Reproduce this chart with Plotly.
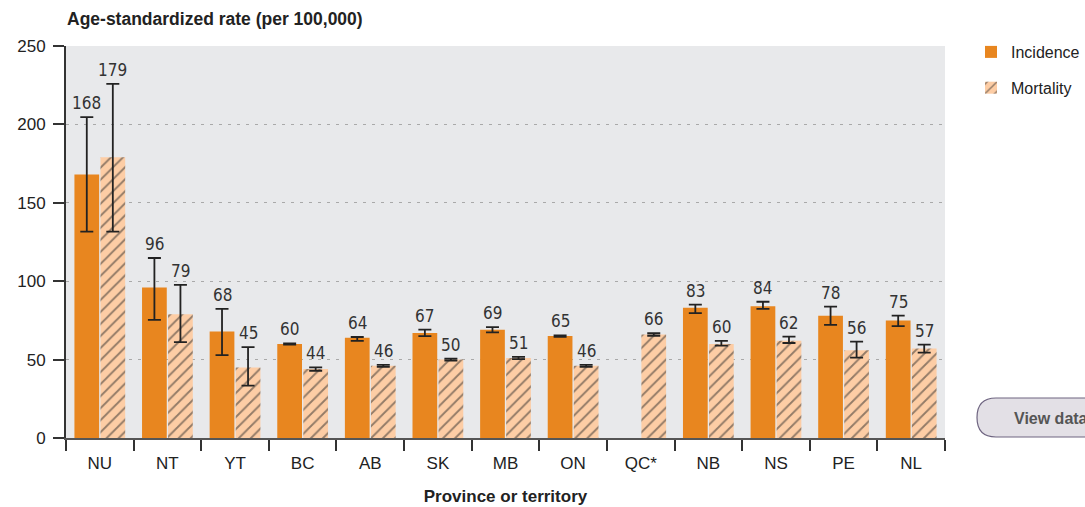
import plotly.graph_objects as go

# Age-standardized rates by province / territory, with 95% confidence limits
categories = ["NU", "NT", "YT", "BC", "AB", "SK", "MB", "ON", "QC*", "NB", "NS", "PE", "NL"]
incidence = [168, 96, 68, 60, 64, 67, 69, 65, None, 83, 84, 78, 75]
mortality = [179, 79, 45, 44, 46, 50, 51, 46, 66, 60, 62, 56, 57]
incidence_low = [131.6, 75.3, 52.9, 59.6, 61.9, 65.0, 67.4, 64.5, None, 79.7, 82.3, 72.1, 71.4]
incidence_high = [204.7, 114.8, 82.3, 60.4, 64.4, 69.1, 70.7, 65.5, None, 85.0, 86.9, 83.8, 78.0]
mortality_low = [131.6, 61.2, 33.4, 42.9, 45.4, 49.4, 50.3, 45.4, 65.2, 58.9, 60.6, 51.2, 54.4]
mortality_high = [225.8, 97.6, 58.0, 45.1, 46.6, 50.6, 51.7, 46.6, 66.8, 61.9, 64.6, 61.4, 59.5]
y_ticks = [0, 50, 100, 150, 200, 250]

ORANGE = "#E8861F"
PEACH = "#FDCDA5"
INK = "#333333"
LABEL_FONT = "Liberation Sans Narrow, DejaVu Sans Condensed, Arial Narrow, sans-serif"
TICK_FONT = "Liberation Sans, Arial, sans-serif"

# plot area in pixels
L, R, T, B = 66, 140, 46, 69
W, H = 1085, 507
PW, PH = W - L - R, H - T - B


def plus(vals, hi):
    return [None if v is None else h - v for v, h in zip(vals, hi)]


def minus(vals, lo):
    return [None if v is None else v - l for v, l in zip(vals, lo)]


def px_x(x):
    return (x - L) / PW


def px_y(y):
    return (H - B - y) / PH


fig = go.Figure()
fig.add_trace(go.Bar(
    name="Incidence", x=categories, y=incidence, legendgroup="inc",
    marker=dict(color=ORANGE, line=dict(width=0)),
    error_y=dict(type="data", symmetric=False,
                 array=plus(incidence, incidence_high),
                 arrayminus=minus(incidence, incidence_low),
                 color="#222222", thickness=1.8, width=6.5),
))
fig.add_trace(go.Bar(
    name="Mortality", x=categories, y=mortality, legendgroup="mort",
    marker=dict(color=PEACH, line=dict(width=0),
                pattern=dict(shape="/", fgcolor="#2a2a2a", bgcolor=PEACH,
                             size=8.5, solidity=0.22)),
    error_y=dict(type="data", symmetric=False,
                 array=plus(mortality, mortality_high),
                 arrayminus=minus(mortality, mortality_low),
                 color="#222222", thickness=1.8, width=6.5),
))

# Value labels above each bar (or its upper confidence limit)
annotations = []
for vals, highs, shift in ((incidence, incidence_high, -13), (mortality, mortality_high, 13)):
    for cat, v, h in zip(categories, vals, highs):
        if v is None:
            continue
        annotations.append(dict(
            x=cat, y=max(v, h), xref="x", yref="y", text=str(v),
            showarrow=False, xshift=shift, yshift=2, yanchor="bottom",
            font=dict(family=LABEL_FONT, size=17, color=INK),
        ))

annotations += [
    dict(text="<b>Age-standardized rate (per 100,000)</b>", xref="paper", yref="paper",
         x=0, y=1, xshift=-1, yshift=15, xanchor="left", yanchor="bottom",
         showarrow=False, font=dict(family=TICK_FONT, size=17.5, color="#222222")),
    dict(text="<b>View data</b>", xref="paper", yref="paper", x=px_x(1012), y=px_y(418),
         xanchor="left", yanchor="middle", showarrow=False,
         font=dict(family=TICK_FONT, size=16, color="#555555")),
]

# Rounded "View data" button at lower right
bx0, bx1, by0, by1, r = 977, 1110, 398, 437, 19
button_path = (
    f"M {px_x(bx0 + r)} {px_y(by0)} L {px_x(bx1)} {px_y(by0)} "
    f"L {px_x(bx1)} {px_y(by1)} L {px_x(bx0 + r)} {px_y(by1)} "
    f"Q {px_x(bx0)} {px_y(by1)} {px_x(bx0)} {px_y((by0 + by1) / 2)} "
    f"Q {px_x(bx0)} {px_y(by0)} {px_x(bx0 + r)} {px_y(by0)} Z"
)

fig.update_layout(
    width=W, height=H,
    margin=dict(l=L, r=R, t=T, b=B, autoexpand=False),
    paper_bgcolor="white", plot_bgcolor="#E8E9EB",
    barmode="group", bargap=0.23, bargroupgap=0.05,
    showlegend=True,
    legend=dict(x=px_x(971), y=px_y(35), xanchor="left", yanchor="top",
                font=dict(family=TICK_FONT, size=16, color="#222222"),
                tracegroupgap=12, traceorder="grouped",
                bgcolor="rgba(0,0,0,0)"),
    annotations=annotations,
    shapes=[dict(type="path", xref="paper", yref="paper", layer="below",
                 path=button_path,
                 line=dict(color="#6E6480", width=1.2), fillcolor="#E3E0E6")],
)

fig.update_xaxes(
    type="category", showgrid=False,
    showline=True, linecolor="#555555", linewidth=2,
    ticks="outside", tickson="boundaries", ticklen=11, tickwidth=1.5, tickcolor=INK,
    ticklabelstandoff=9,
    tickfont=dict(family=TICK_FONT, size=17, color="#222222"),
    title=dict(text="<b>Province or territory</b>", standoff=18,
               font=dict(family=TICK_FONT, size=17, color="#222222")),
)
fig.update_yaxes(
    range=[0, 250], tickvals=y_ticks, showgrid=True,
    gridcolor="#A9A9A9", griddash="3px,6px", gridwidth=1.2,
    zeroline=False, showline=True, linecolor=INK, linewidth=2,
    ticks="outside", ticklen=11, tickwidth=1.5, tickcolor=INK,
    ticklabelstandoff=4,
    tickfont=dict(family=TICK_FONT, size=17, color="#222222"),
)

fig.write_html("out.html")
